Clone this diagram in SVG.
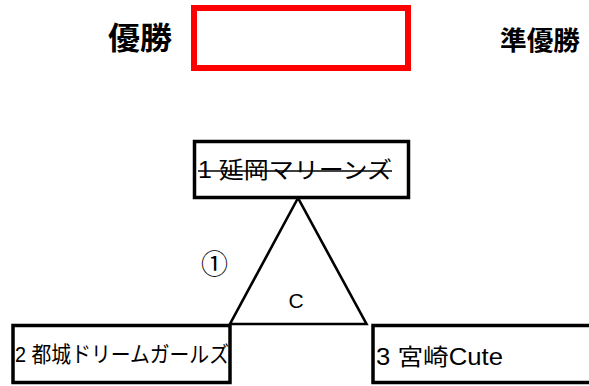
<svg xmlns="http://www.w3.org/2000/svg" width="589" height="386" viewBox="0 0 589 386">
<style>
.box{fill:#fff;stroke:#000;stroke-width:3.5}
.t{font-family:"Liberation Sans","Noto Sans CJK JP",sans-serif;fill:#000}
.j{font-family:"Noto Sans CJK JP",sans-serif;fill:#000}
.b{font-family:"Noto Sans CJK JP","Liberation Sans",sans-serif;font-weight:bold;fill:#000}
.ln{fill:none;stroke:#000;stroke-width:2.6;stroke-linejoin:miter}
</style>
<rect width="589" height="386" fill="#fff"/>
<g id="title-winner">
<text class="b" x="108" y="49" font-size="31" textLength="64" lengthAdjust="spacingAndGlyphs">優勝</text>
</g>
<g id="winner-box">
<rect x="194" y="8" width="214" height="60" fill="#fff" stroke="#f00" stroke-width="6"/>
</g>
<g id="title-runnerup">
<text class="b" x="500" y="50" font-size="26" textLength="80" lengthAdjust="spacingAndGlyphs">準優勝</text>
</g>
<g id="connectors">
<polygon class="ln" points="298,198 230,324 366.5,324"/>
</g>
<g id="node-1">
<rect class="box" x="194.5" y="141.5" width="214" height="56"/>
<text class="t" x="198" y="178" font-size="23" textLength="194" lengthAdjust="spacingAndGlyphs">1 延岡マリーンズ</text>
<line x1="198" y1="171" x2="392" y2="171" stroke="#000" stroke-width="1.5"/>
</g>
<g id="node-2">
<rect class="box" x="13" y="325.5" width="217" height="57"/>
<text class="t" x="15" y="362" font-size="22" textLength="214" lengthAdjust="spacingAndGlyphs">2 都城ドリームガールズ</text>
</g>
<g id="node-3">
<rect class="box" x="373" y="325.5" width="230" height="57"/>
<text class="t" x="376" y="365" font-size="23" textLength="127" lengthAdjust="spacingAndGlyphs">3 宮崎Cute</text>
</g>
<g id="labels">
<text class="t" x="296" y="307.5" font-size="21" text-anchor="middle">C</text>
<text class="j" x="214.5" y="273.5" font-size="27" text-anchor="middle">①</text>
</g>
</svg>
